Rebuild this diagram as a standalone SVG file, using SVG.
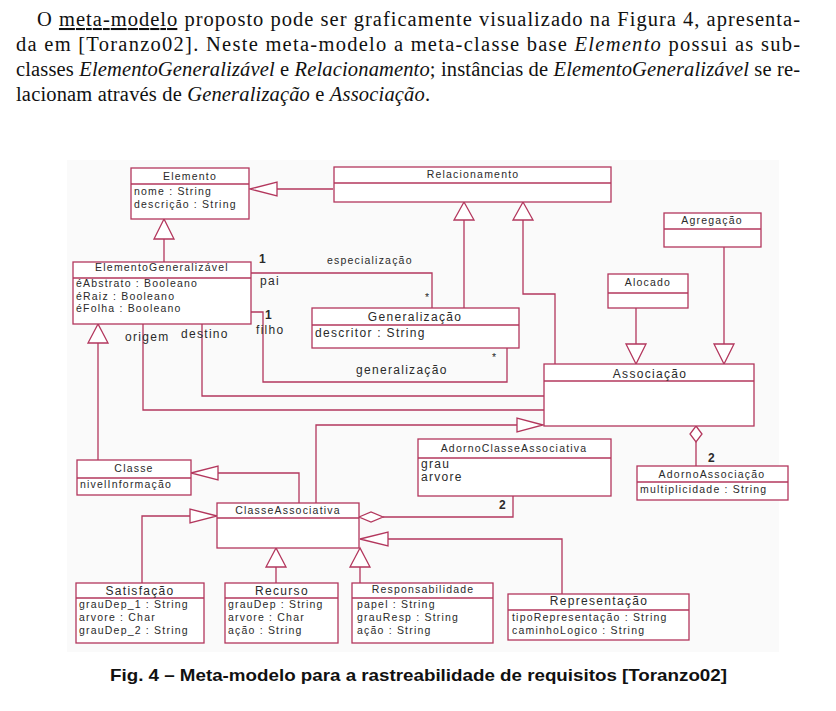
<svg xmlns="http://www.w3.org/2000/svg" width="836" height="711" viewBox="0 0 836 711">
<style>
.box{fill:#ffffff;stroke:#b3375d;stroke-width:1.3}
.ln{fill:none;stroke:#b3375d;stroke-width:1.3}
.hd{fill:#ffffff;stroke:#b3375d;stroke-width:1.3}
.s{font-family:"Liberation Sans",Arial,sans-serif;font-size:10.5px;letter-spacing:1.2px;fill:#2a2a2a}
.m{font-family:"Liberation Sans",Arial,sans-serif;font-size:12px;letter-spacing:1.3px;fill:#2a2a2a}
.c{text-anchor:middle}
.b{font-weight:bold}
.p{font-family:"Liberation Serif","Times New Roman",serif;font-size:20.5px;fill:#111}
.cap{font-family:"Liberation Sans",Arial,sans-serif;font-size:16.5px;font-weight:bold;fill:#111}
</style>
<rect x="0" y="0" width="836" height="711" fill="#ffffff"/>
<g id="paragraph">
<text class="p" x="37" y="26" textLength="763" lengthAdjust="spacing">O <tspan text-decoration="underline">meta-modelo</tspan> proposto pode ser graficamente visualizado na Figura 4, apresenta-</text>
<text class="p" x="16" y="51" textLength="784" lengthAdjust="spacing">da em [Toranzo02]. Neste meta-modelo a meta-classe base <tspan font-style="italic">Elemento</tspan> possui as sub-</text>
<text class="p" x="16" y="76" textLength="784" lengthAdjust="spacing">classes <tspan font-style="italic">ElementoGeneralizável</tspan> e <tspan font-style="italic">Relacionamento</tspan>; instâncias de <tspan font-style="italic">ElementoGeneralizável</tspan> se re-</text>
<text class="p" x="16" y="101" textLength="414" lengthAdjust="spacing">lacionam através de <tspan font-style="italic">Generalização</tspan> e <tspan font-style="italic">Associação</tspan>.</text>
</g>
<rect x="67" y="160" width="712" height="492" fill="#fafafa"/>
<g id="connectors">
<line class="ln" x1="277" y1="189" x2="333" y2="189"/>
<polygon class="hd" points="250,189 277,182 277,196"/>
<line class="ln" x1="164" y1="262" x2="164" y2="239"/>
<polygon class="hd" points="164,219 154,239 174,239"/>
<polyline class="ln" points="251,273 432,273 432,308"/>
<polyline class="ln" points="251,312 263,312 263,382 507,382 507,348"/>
<line class="ln" x1="464" y1="308" x2="464" y2="220"/>
<polygon class="hd" points="464,202 454,220 474,220"/>
<polyline class="ln" points="555,364 555,294 523,294 523,220"/>
<polygon class="hd" points="523,202 513,220 533,220"/>
<line class="ln" x1="636" y1="308" x2="636" y2="344"/>
<polygon class="hd" points="636,364 626,344 646,344"/>
<line class="ln" x1="724" y1="247" x2="724" y2="344"/>
<polygon class="hd" points="724,364 714,344 734,344"/>
<polyline class="ln" points="143,324 143,410 544,410"/>
<polyline class="ln" points="202,324 202,396 544,396"/>
<polyline class="ln" points="316,503 316,425 517,425"/>
<polygon class="hd" points="543,425 517,418 517,432"/>
<line class="ln" x1="696" y1="442" x2="696" y2="466"/>
<polygon class="hd" points="696,426 702,434 696,442 690,434"/>
<line class="ln" x1="98" y1="343" x2="98" y2="460"/>
<polygon class="hd" points="98,324 88,343 108,343"/>
<polyline class="ln" points="299,503 299,473 218,473"/>
<polygon class="hd" points="191,473 218,466 218,480"/>
<polyline class="ln" points="513,496 513,517 383,517"/>
<polygon class="hd" points="359,517 371,512 383,517 371,522"/>
<polyline class="ln" points="142,583 142,516 190,516"/>
<polygon class="hd" points="217,516 190,509 190,523"/>
<line class="ln" x1="276" y1="583" x2="276" y2="567"/>
<polygon class="hd" points="276,548 266,567 286,567"/>
<line class="ln" x1="360" y1="583" x2="360" y2="567"/>
<polygon class="hd" points="360,548 350,567 370,567"/>
<polyline class="ln" points="562,594 562,539 388,539"/>
<polygon class="hd" points="360,539 388,532 388,546"/>
<text class="m b" x="259" y="263">1</text>
<text class="m" x="260" y="285">pai</text>
<text class="s" x="327" y="263.5">especialização</text>
<text class="s" x="425" y="301">*</text>
<text class="m b" x="265" y="319">1</text>
<text class="m" x="256" y="334">filho</text>
<text class="m" x="356" y="374">generalização</text>
<text class="s" x="492" y="361">*</text>
<text class="m" x="125" y="341">origem</text>
<text class="m" x="181" y="338">destino</text>
<text class="m b" x="499" y="509">2</text>
<text class="m b" x="708" y="462">2</text>
</g>
<g id="Elemento">
<rect class="box" x="131" y="168" width="118" height="51"/>
<line class="ln" x1="131" y1="184" x2="249" y2="184"/>
<text class="s c" x="190" y="179.5">Elemento</text>
<text class="s" x="134" y="195">nome : String</text>
<text class="s" x="134" y="207.5">descrição : String</text>
</g>
<g id="Relacionamento">
<rect class="box" x="334" y="167" width="277" height="35"/>
<line class="ln" x1="334" y1="183" x2="611" y2="183"/>
<text class="s c" x="473" y="177.5">Relacionamento</text>
</g>
<g id="ElementoGeneralizavel">
<rect class="box" x="73" y="262" width="178" height="62"/>
<line class="ln" x1="73" y1="278" x2="251" y2="278"/>
<text class="s c" x="162" y="270.5">ElementoGeneralizável</text>
<text class="s" x="76" y="286.5">éAbstrato : Booleano</text>
<text class="s" x="76" y="299.5">éRaiz : Booleano</text>
<text class="s" x="76" y="311.5">éFolha : Booleano</text>
</g>
<g id="Generalizacao">
<rect class="box" x="312" y="308" width="207" height="40"/>
<line class="ln" x1="312" y1="325" x2="519" y2="325"/>
<text class="m c" x="415" y="320.5">Generalização</text>
<text class="m" x="315" y="336.5">descritor : String</text>
</g>
<g id="Agregacao">
<rect class="box" x="664" y="213" width="97" height="34"/>
<line class="ln" x1="664" y1="229" x2="761" y2="229"/>
<text class="s c" x="712" y="223.5">Agregação</text>
</g>
<g id="Alocado">
<rect class="box" x="608" y="274" width="80" height="34"/>
<line class="ln" x1="608" y1="293" x2="688" y2="293"/>
<text class="s c" x="648" y="285.5">Alocado</text>
</g>
<g id="Associacao">
<rect class="box" x="544" y="364" width="210" height="62"/>
<line class="ln" x1="544" y1="381" x2="754" y2="381"/>
<text class="m c" x="650" y="378">Associação</text>
</g>
<g id="AdornoClasseAssociativa">
<rect class="box" x="418" y="439" width="193" height="57"/>
<line class="ln" x1="418" y1="458" x2="611" y2="458"/>
<text class="s c" x="514" y="451.5">AdornoClasseAssociativa</text>
<text class="m" font-size="11" letter-spacing="0.8"><tspan x="421" y="468">grau</tspan><tspan x="421" y="480.5">arvore</tspan></text>
</g>
<g id="AdornoAssociacao">
<rect class="box" x="637" y="466" width="151" height="34"/>
<line class="ln" x1="637" y1="482" x2="788" y2="482"/>
<text class="s c" x="712" y="477.5">AdornoAssociação</text>
<text class="s" x="640" y="492.5">multiplicidade : String</text>
</g>
<g id="Classe">
<rect class="box" x="77" y="460" width="114" height="35"/>
<line class="ln" x1="77" y1="478" x2="191" y2="478"/>
<text class="s c" x="134" y="472">Classe</text>
<text class="s" x="80" y="488">nivelInformação</text>
</g>
<g id="ClasseAssociativa">
<rect class="box" x="217" y="503" width="142" height="45"/>
<line class="ln" x1="217" y1="518" x2="359" y2="518"/>
<text class="s c" x="288" y="513.5">ClasseAssociativa</text>
</g>
<g id="Satisfacao">
<rect class="box" x="76" y="583" width="128" height="60"/>
<line class="ln" x1="76" y1="598" x2="204" y2="598"/>
<text class="m c" x="140" y="594.5">Satisfação</text>
<text class="s" x="79" y="607.5">grauDep_1 : String</text>
<text class="s" x="79" y="620.5">arvore : Char</text>
<text class="s" x="79" y="633.5">grauDep_2 : String</text>
</g>
<g id="Recurso">
<rect class="box" x="225" y="583" width="113" height="60"/>
<line class="ln" x1="225" y1="598" x2="338" y2="598"/>
<text class="m c" x="282" y="594.5">Recurso</text>
<text class="s" x="228" y="607.5">grauDep : String</text>
<text class="s" x="228" y="620.5">arvore : Char</text>
<text class="s" x="228" y="633.5">ação : String</text>
</g>
<g id="Responsabilidade">
<rect class="box" x="352" y="583" width="141" height="60"/>
<line class="ln" x1="352" y1="598" x2="493" y2="598"/>
<text class="s c" x="423" y="592.5">Responsabilidade</text>
<text class="s" x="357" y="607.5">papel : String</text>
<text class="s" x="357" y="620.5">grauResp : String</text>
<text class="s" x="357" y="633.5">ação : String</text>
</g>
<g id="Representacao">
<rect class="box" x="508" y="594" width="181" height="46"/>
<line class="ln" x1="508" y1="610" x2="689" y2="610"/>
<text class="m c" x="599" y="605">Representação</text>
<text class="s" x="512" y="620.5">tipoRepresentação : String</text>
<text class="s" x="512" y="633.5">caminhoLogico : String</text>
</g>
<g id="caption">
<text class="cap" x="110" y="681" textLength="617" lengthAdjust="spacingAndGlyphs">Fig. 4 – Meta-modelo para a rastreabilidade de requisitos [Toranzo02]</text>
</g>
</svg>
